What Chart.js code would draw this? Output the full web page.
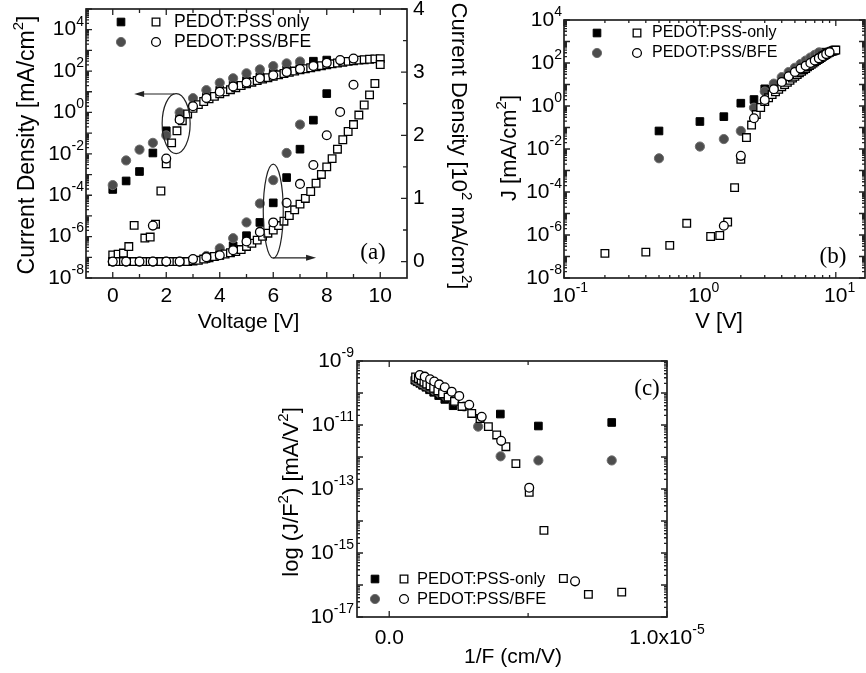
<!DOCTYPE html>
<html>
<head>
<meta charset="utf-8">
<script src="https://cdn.jsdelivr.net/npm/chart.js@4.4.1/dist/chart.umd.min.js"></script>
<style>
  html, body { margin: 0; padding: 0; background: #fff; }
  #wrap { position: relative; width: 866px; height: 673px; overflow: hidden; background: #fff; }
  canvas { position: absolute; }
</style>
</head>
<body>
<div id="wrap">
  <canvas id="chartA" width="480" height="345" style="left:0;top:0"></canvas>
  <canvas id="chartB" width="386" height="345" style="left:480px;top:0"></canvas>
  <canvas id="chartC" width="500" height="333" style="left:240px;top:340px"></canvas>
</div>
<script>
// ---- panel (a): J-V, log (left axis) and linear (right axis, 10^2 mA/cm2) ----
const aFilledVolt = [0, 0.5, 1, 1.5, 2, 2.5, 3, 3.5, 4, 4.5, 5, 5.5, 6, 6.5, 7, 7.5, 8];
const aFilledLog = [1.9e-4, 4.9e-4, 1.4e-3, 0.011, 0.13, 0.5, 1.9, 5.5, 12, 22, 35, 55, 80, 115, 160, 300, 340];
const aFilledLin = [0, 0, 0, 0, 0, 0, 0.02, 0.05, 0.10, 0.25, 0.41, 0.62, 0.93, 1.33, 1.78, 2.24, 2.66];

const aGreyVolt = [0, 0.5, 1, 1.5, 2, 2.5, 3, 3.5, 4, 4.5, 5, 5.5, 6, 6.5, 7];
const aGreyLog = [3.1e-4, 4.8e-3, 0.016, 0.034, 0.078, 1.0, 4.9, 12, 27, 45, 78, 120, 174, 235, 290];
const aGreyLin = [0, 0, 0, 0, 0, 0, 0.03, 0.09, 0.21, 0.37, 0.62, 0.92, 1.29, 1.72, 2.17];

// open squares on the log axis (same sweep is re-plotted in panel b)
const openSqVolt = [0, 0.2, 0.4, 0.6, 0.8, 1.2, 1.4, 1.6, 1.8, 2.0, 2.2, 2.4, 2.6, 2.8, 3.0, 3.2, 3.4, 3.6, 3.8, 4.0,
  4.2, 4.4, 4.6, 4.8, 5.0, 5.2, 5.4, 5.6, 5.8, 6.0, 6.2, 6.4, 6.6, 6.8, 7.0, 7.2, 7.4, 7.6, 7.8, 8.0,
  8.2, 8.4, 8.6, 8.8, 9.0, 9.2, 9.4, 9.6, 9.8, 10.0];
const openSqLog = [1.3e-7, 1.4e-7, 1.6e-7, 3.3e-7, 3.5e-6, 8.5e-7, 9.5e-7, 4e-6, 1.6e-4, 3.3e-3, 0.034, 0.13, 0.4, 0.85, 1.6, 2.4, 3.4, 4.6, 6.0, 7.9,
  10, 12.6, 15.8, 20, 24, 29, 35, 41, 48, 56, 66, 76, 87, 100, 115, 129, 145, 162, 182, 204,
  224, 245, 269, 295, 316, 339, 355, 372, 389, 400];

const aLinSqVolt = [0, 0.2, 0.4, 0.6, 0.8, 1.0, 1.2, 1.4, 1.6, 1.8, 2.0, 2.2, 2.4, 2.6, 2.8, 3.0, 3.2, 3.4, 3.6, 3.8,
  4.0, 4.2, 4.4, 4.6, 4.8, 5.0, 5.2, 5.4, 5.6, 5.8, 6.0, 6.2, 6.4, 6.6, 6.8, 7.0, 7.2, 7.4, 7.6, 7.8,
  8.0, 8.2, 8.4, 8.6, 8.8, 9.0, 9.2, 9.4, 9.6, 9.8, 10.0];
const aLinSq = [0, 0, 0, 0, 0, 0, 0, 0, 0, 0, 0, 0, 0, 0, 0, 0.01, 0.02, 0.04, 0.06, 0.08,
  0.10, 0.12, 0.14, 0.16, 0.19, 0.24, 0.29, 0.34, 0.40, 0.45, 0.50, 0.57, 0.64, 0.73, 0.82, 0.91, 1.00, 1.11, 1.24, 1.38,
  1.50, 1.63, 1.78, 1.93, 2.06, 2.17, 2.32, 2.48, 2.64, 2.82, 3.12];

const aCircLogVolt = [1.5, 2, 2.5, 3, 3.5, 4, 4.5, 5, 5.5, 6, 6.5, 7, 7.5, 8, 8.5, 9];
const aCircLog = [3.4e-6, 5.9e-3, 0.45, 2.0, 5.0, 10, 18, 28, 45, 63, 89, 126, 178, 250, 340, 400];
const aCircLinVolt = [0, 0.5, 1, 1.5, 2, 2.5, 3, 3.5, 4, 4.5, 5, 5.5, 6, 6.5, 7, 7.5, 8, 8.5, 9];
const aCircLin = [0, 0, 0, 0, 0, 0, 0.04, 0.07, 0.10, 0.18, 0.32, 0.47, 0.62, 0.93, 1.23, 1.53, 2.0, 2.37, 2.8];

// ---- panel (b): log-log J-V ----
const bFilledVolt = [0.5, 1, 1.5, 2, 2.5, 3, 3.5, 4, 4.5, 5, 5.5, 6, 6.5, 7, 7.5, 8];
const bFilled = [0.069, 0.19, 0.32, 1.35, 2.0, 6.3, 9, 15, 23, 34, 48, 68, 95, 130, 250, 320];
const bGreyVolt = [0.5, 1, 1.5, 2, 2.5, 3, 3.5, 4, 4.5, 5, 5.5, 6, 6.5, 7, 7.5];
const bGrey = [3.7e-3, 0.013, 0.029, 0.069, 0.83, 4.7, 11, 22, 38, 60, 90, 130, 180, 240, 310];
const bCircVolt = [1.5, 2, 2.5, 3, 3.5, 4, 4.5, 5, 5.5, 6, 6.5, 7, 7.5, 8, 8.5, 9];
const bCirc = [2.7e-6, 4.8e-3, 0.27, 1.9, 6, 13, 24, 38, 55, 75, 100, 130, 165, 205, 260, 320];

// ---- panel (c): J/F^2 vs 1/F ----
const cFilledX = [0.92e-6, 1.0e-6, 1.1e-6, 1.2e-6, 1.32e-6, 1.45e-6, 1.6e-6, 1.78e-6, 2.0e-6, 2.3e-6, 4.0e-6, 5.37e-6, 8.01e-6];
const cFilledY = [2.5e-10, 2.24e-10, 2.0e-10, 1.74e-10, 1.51e-10, 1.26e-10, 1.05e-10, 8.3e-11, 6.3e-11, 4.0e-11, 2.2e-11, 9.3e-12, 1.2e-11];
const cGreyX = [0.95e-6, 1.05e-6, 1.17e-6, 1.3e-6, 1.45e-6, 1.62e-6, 1.82e-6, 2.05e-6, 2.35e-6, 2.7e-6, 3.2e-6, 4.01e-6, 5.37e-6, 8.01e-6];
const cGreyY = [2.63e-10, 2.34e-10, 2.04e-10, 1.74e-10, 1.48e-10, 1.23e-10, 1.0e-10, 7.8e-11, 5.6e-11, 3.8e-11, 8.9e-12, 1.05e-12, 7.8e-13, 7.8e-13];
const cSqX = [0.95e-6, 1.05e-6, 1.15e-6, 1.25e-6, 1.35e-6, 1.47e-6, 1.6e-6, 1.75e-6, 1.92e-6, 2.12e-6, 2.35e-6, 2.62e-6, 2.97e-6, 3.27e-6,
  3.57e-6, 3.87e-6, 4.2e-6, 4.56e-6, 5.04e-6, 5.57e-6, 6.27e-6, 7.17e-6, 8.37e-6];
const cSqY = [3.16e-10, 2.82e-10, 2.51e-10, 2.19e-10, 1.91e-10, 1.66e-10, 1.41e-10, 1.17e-10, 9.5e-11, 7.4e-11, 5.5e-11, 3.8e-11, 2.3e-11, 1.6e-11,
  8.9e-12, 4.9e-12, 2.1e-12, 6.2e-13, 7.9e-14, 5.1e-15, 1.6e-16, 5.1e-17, 6.0e-17];
const cCircX = [1.1e-6, 1.28e-6, 1.47e-6, 1.62e-6, 1.8e-6, 2.0e-6, 2.25e-6, 2.52e-6, 2.88e-6, 3.33e-6, 4.03e-6, 5.04e-6, 6.69e-6];
const cCircY = [3.63e-10, 3.24e-10, 2.69e-10, 2.29e-10, 1.86e-10, 1.51e-10, 1.10e-10, 8.1e-11, 4.3e-11, 1.8e-11, 3.2e-12, 1.1e-13, 1.3e-16];

// tick labels
const aXTicks = [0, 2, 4, 6, 8, 10];
const aYLeftExps = [-8, -6, -4, -2, 0, 2, 4];
const aYRightTicks = [0, 1, 2, 3, 4];
const bXExps = [-1, 0, 1];
const bYExps = [-8, -6, -4, -2, 0, 2, 4];
const cYExps = [-17, -15, -13, -11, -9];

const aLegend = ['PEDOT:PSS only', 'PEDOT:PSS/BFE'];
const bLegend = ['PEDOT:PSS-only', 'PEDOT:PSS/BFE'];

const INK = '#222';
const TEXT = '#000';
const SANS = '"Liberation Sans", Arial, Helvetica, sans-serif';
const SERIF = '"Liberation Serif", "Times New Roman", serif';

const MARK = {
  filledSq: { shape: 'rect', r: 5.4, fill: '#000', line: '#000', w: 1 },
  greyCirc: { shape: 'circle', r: 4.6, fill: '#4d4d4d', line: '#6e6e6e', w: 1 },
  openSq: { shape: 'rect', r: 5.4, fill: '#fff', line: '#000', w: 1.3 },
  openCirc: { shape: 'circle', r: 4.4, fill: '#fff', line: '#000', w: 1.3 },
};

function series(xs, ys, kind, yAxis) {
  const m = MARK[kind];
  const pts = [];
  xs.forEach((x, i) => pts.push({ x: x, y: ys[i] }));
  return {
    data: pts,
    yAxisID: yAxis || 'y',
    showLine: false,
    pointStyle: m.shape,
    pointRadius: m.r,
    pointHoverRadius: m.r,
    pointBackgroundColor: m.fill,
    pointBorderColor: m.line,
    pointBorderWidth: m.w,
  };
}

function hidden(extra) {
  return Object.assign({
    ticks: { display: false },
    grid: { display: false },
    border: { display: false },
  }, extra);
}

function logTicks(lo, hi) {
  const major = [], minor = [];
  for (let e = Math.floor(Math.log10(lo)) - 1; e <= Math.ceil(Math.log10(hi)); e++) {
    const d = Math.pow(10, e);
    major.push(d);
    for (let m = 2; m < 10; m++) minor.push(m * d);
  }
  return { major, minor };
}

function tickRow(ctx, a, scale, side, values, len) {
  ctx.beginPath();
  values.forEach(v => {
    const p = scale.getPixelForValue(v);
    if (side === 'bottom' || side === 'top') {
      if (p < a.left - 0.5 || p > a.right + 0.5) return;
      const y0 = side === 'bottom' ? a.bottom : a.top;
      ctx.moveTo(p, y0);
      ctx.lineTo(p, side === 'bottom' ? y0 - len : y0 + len);
    } else {
      if (p < a.top - 0.5 || p > a.bottom + 0.5) return;
      const x0 = side === 'left' ? a.left : a.right;
      ctx.moveTo(x0, p);
      ctx.lineTo(side === 'left' ? x0 + len : x0 - len, p);
    }
  });
  ctx.stroke();
}

function frame(ctx, a) {
  ctx.save();
  ctx.lineWidth = 1.7;
  ctx.strokeStyle = INK;
  ctx.strokeRect(a.left, a.top, a.right - a.left, a.bottom - a.top);
  ctx.restore();
}

function supText(ctx, base, exp, x, y, align) {
  ctx.font = '21px ' + SANS;
  const bw = ctx.measureText(base).width;
  ctx.font = '14px ' + SANS;
  const ew = ctx.measureText(exp).width;
  let x0 = x - (bw + ew) / 2;
  if (align === 'right') x0 = x - bw - ew;
  if (align === 'base') x0 = x - bw / 2;
  ctx.fillStyle = TEXT;
  ctx.textAlign = 'left';
  ctx.textBaseline = 'middle';
  ctx.font = '21px ' + SANS;
  ctx.fillText(base, x0, y);
  ctx.font = '14px ' + SANS;
  ctx.fillText(exp, x0 + bw, y - 8);
}

function plain(ctx, text, x, y, align, font) {
  ctx.fillStyle = TEXT;
  ctx.font = font || ('21px ' + SANS);
  ctx.textAlign = align || 'center';
  ctx.textBaseline = 'middle';
  ctx.fillText(text, x, y);
}

// axis title with "^x" marking a one-character superscript
function title(ctx, text, x, y, angle, size) {
  const parts = [];
  let buf = '';
  for (let i = 0; i < text.length; i++) {
    if (text[i] === '^') {
      if (buf) parts.push({ t: buf, sup: false });
      parts.push({ t: text[i + 1], sup: true });
      buf = '';
      i++;
    } else {
      buf += text[i];
    }
  }
  if (buf) parts.push({ t: buf, sup: false });
  const big = size + 'px ' + SANS, small = Math.round(size * 0.66) + 'px ' + SANS;
  let total = 0;
  parts.forEach(p => {
    ctx.font = p.sup ? small : big;
    p.w = ctx.measureText(p.t).width;
    total += p.w;
  });
  ctx.save();
  ctx.translate(x, y);
  ctx.rotate(angle);
  ctx.fillStyle = TEXT;
  ctx.textAlign = 'left';
  ctx.textBaseline = 'middle';
  let cx = -total / 2;
  parts.forEach(p => {
    ctx.font = p.sup ? small : big;
    ctx.fillText(p.t, cx, p.sup ? -size * 0.38 : 0);
    cx += p.w;
  });
  ctx.restore();
}

function marker(ctx, kind, x, y) {
  const m = MARK[kind];
  ctx.save();
  ctx.fillStyle = m.fill;
  ctx.strokeStyle = m.line;
  ctx.lineWidth = m.w;
  ctx.beginPath();
  if (m.shape === 'rect') {
    const h = m.r * Math.SQRT1_2;
    ctx.rect(x - h, y - h, 2 * h, 2 * h);
  } else {
    ctx.arc(x, y, m.r, 0, Math.PI * 2);
  }
  ctx.fill();
  ctx.stroke();
  ctx.restore();
}

function legend(ctx, x1, x2, xt, y1, y2, labels, font) {
  marker(ctx, 'filledSq', x1, y1);
  marker(ctx, 'openSq', x2, y1);
  marker(ctx, 'greyCirc', x1, y2);
  marker(ctx, 'openCirc', x2, y2);
  plain(ctx, labels[0], xt, y1, 'left', font);
  plain(ctx, labels[1], xt, y2, 'left', font);
}

function arrow(ctx, x1, y, x2) {
  const d = Math.sign(x2 - x1);
  ctx.beginPath();
  ctx.moveTo(x1, y);
  ctx.lineTo(x2 - d * 4, y);
  ctx.stroke();
  ctx.beginPath();
  ctx.moveTo(x2, y);
  ctx.lineTo(x2 - d * 10, y - 3);
  ctx.lineTo(x2 - d * 10, y + 3);
  ctx.closePath();
  ctx.fill();
}

const baseOptions = {
  responsive: false,
  animation: false,
  events: [],
  plugins: { legend: { display: false }, tooltip: { enabled: false } },
};

// ---------- (a) ----------
const aDecor = {
  id: 'aDecor',
  afterDatasetsDraw(chart) {
    const ctx = chart.ctx, a = chart.chartArea;
    const x = chart.scales.x, yL = chart.scales.yL, yR = chart.scales.yR;
    ctx.save();
    ctx.strokeStyle = INK;
    ctx.fillStyle = INK;
    ctx.lineWidth = 1.2;

    ctx.beginPath();
    ctx.ellipse(x.getPixelForValue(2.37), yL.getPixelForValue(0.29), 14, 30, 0, 0, Math.PI * 2);
    ctx.stroke();
    arrow(ctx, x.getPixelForValue(2.3), yL.getPixelForValue(7.8), x.getPixelForValue(0.8));
    ctx.beginPath();
    ctx.ellipse(x.getPixelForValue(6), yR.getPixelForValue(0.8), 10, 47, 0, 0, Math.PI * 2);
    ctx.stroke();
    arrow(ctx, x.getPixelForValue(6), yR.getPixelForValue(0.06), x.getPixelForValue(7.6));

    const lg = logTicks(1e-8, 1e5);
    ctx.lineWidth = 1.3;
    tickRow(ctx, a, x, 'bottom', [0, 2, 4, 6, 8, 10], 6);
    tickRow(ctx, a, x, 'bottom', [1, 3, 5, 7, 9], 4);
    tickRow(ctx, a, x, 'top', [0, 2, 4, 6, 8, 10], 6);
    tickRow(ctx, a, x, 'top', [1, 3, 5, 7, 9], 4);
    tickRow(ctx, a, yL, 'left', lg.major, 6);
    tickRow(ctx, a, yL, 'left', lg.minor, 3);
    tickRow(ctx, a, yR, 'right', [0, 1, 2, 3, 4], 6);
    tickRow(ctx, a, yR, 'right', [0.5, 1.5, 2.5, 3.5], 4);
    frame(ctx, a);

    aXTicks.forEach(v => plain(ctx, String(v), x.getPixelForValue(v), a.bottom + 18));
    aYLeftExps.forEach(e => supText(ctx, '10', String(e), a.left - 2, yL.getPixelForValue(Math.pow(10, e)), 'right'));
    aYRightTicks.forEach(v => plain(ctx, String(v), a.right + 6, yR.getPixelForValue(v), 'left'));

    title(ctx, 'Current Density [mA/cm^2]', 28, 145, -Math.PI / 2, 23);
    title(ctx, 'Current Density [10^2 mA/cm^2]', 458, 146, Math.PI / 2, 22);
    title(ctx, 'Voltage [V]', (a.left + a.right) / 2 + 2, 322, 0, 21);

    legend(ctx, a.left + 35, a.left + 70, a.left + 88, a.top + 13, a.top + 33, aLegend, '17.5px ' + SANS);
    plain(ctx, '(a)', a.right - 34, a.bottom - 25, 'center', '23px ' + SERIF);
    ctx.restore();
  }
};

new Chart(document.getElementById('chartA'), {
  type: 'scatter',
  data: {
    datasets: [
      series(aCircLinVolt, aCircLin, 'openCirc', 'yR'),
      series(aCircLogVolt, aCircLog, 'openCirc', 'yL'),
      series(aLinSqVolt, aLinSq, 'openSq', 'yR'),
      series(openSqVolt, openSqLog, 'openSq', 'yL'),
      series(aGreyVolt, aGreyLin, 'greyCirc', 'yR'),
      series(aGreyVolt, aGreyLog, 'greyCirc', 'yL'),
      series(aFilledVolt, aFilledLin, 'filledSq', 'yR'),
      series(aFilledVolt, aFilledLog, 'filledSq', 'yL'),
    ]
  },
  options: Object.assign({}, baseOptions, {
    layout: { padding: { top: 9, left: 0, right: 0, bottom: 0 }, autoPadding: false },
    scales: {
      x: hidden({ type: 'linear', position: 'bottom', min: -1, max: 11, afterFit: s => { s.height = 67; } }),
      yL: hidden({ type: 'logarithmic', position: 'left', min: 1e-8, max: 1e5, afterFit: s => { s.width = 86; } }),
      yR: hidden({ type: 'linear', position: 'right', min: -0.26, max: 4, afterFit: s => { s.width = 73; } }),
    }
  }),
  plugins: [aDecor]
});

// ---------- (b) ----------
const bDecor = {
  id: 'bDecor',
  afterDatasetsDraw(chart) {
    const ctx = chart.ctx, a = chart.chartArea;
    const x = chart.scales.x, y = chart.scales.y;
    ctx.save();
    ctx.strokeStyle = INK;
    ctx.fillStyle = INK;
    ctx.lineWidth = 1.3;
    const lx = logTicks(0.1, 16.4), ly = logTicks(1e-8, 1e4);
    tickRow(ctx, a, x, 'bottom', lx.major, 6);
    tickRow(ctx, a, x, 'bottom', lx.minor, 3);
    tickRow(ctx, a, x, 'top', lx.major, 6);
    tickRow(ctx, a, x, 'top', lx.minor, 3);
    tickRow(ctx, a, y, 'left', ly.major, 6);
    tickRow(ctx, a, y, 'left', ly.minor, 3);
    tickRow(ctx, a, y, 'right', ly.major, 6);
    tickRow(ctx, a, y, 'right', ly.minor, 3);
    frame(ctx, a);

    bXExps.forEach(e => supText(ctx, '10', String(e), x.getPixelForValue(Math.pow(10, e)), a.bottom + 18, 'base'));
    bYExps.forEach(e => supText(ctx, '10', String(e), a.left - 2, y.getPixelForValue(Math.pow(10, e)), 'right'));

    title(ctx, 'J [mA/cm^2]', 30, 148, -Math.PI / 2, 22);
    title(ctx, 'V [V]', 239, 322, 0, 22);

    legend(ctx, a.left + 33, a.left + 73, a.left + 88, a.top + 13, a.top + 33, bLegend, '16px ' + SANS);
    plain(ctx, '(b)', a.right - 32, a.bottom - 21, 'center', '23px ' + SERIF);
    ctx.restore();
  }
};

const bSqVolt = openSqVolt.filter(v => v > 0);
const bSq = openSqLog.filter((j, i) => openSqVolt[i] > 0);

new Chart(document.getElementById('chartB'), {
  type: 'scatter',
  data: {
    datasets: [
      series(bCircVolt, bCirc, 'openCirc'),
      series(bSqVolt, bSq, 'openSq'),
      series(bGreyVolt, bGrey, 'greyCirc'),
      series(bFilledVolt, bFilled, 'filledSq'),
    ]
  },
  options: Object.assign({}, baseOptions, {
    layout: { padding: { top: 20, left: 0, right: 1, bottom: 0 }, autoPadding: false },
    scales: {
      x: hidden({ type: 'logarithmic', position: 'bottom', min: 0.1, max: 16.4, afterFit: s => { s.height = 67; } }),
      y: hidden({ type: 'logarithmic', position: 'left', min: 1e-8, max: 1e4, afterFit: s => { s.width = 84; } }),
    }
  }),
  plugins: [bDecor]
});

// ---------- (c) ----------
const cDecor = {
  id: 'cDecor',
  afterDatasetsDraw(chart) {
    const ctx = chart.ctx, a = chart.chartArea;
    const x = chart.scales.x, y = chart.scales.y;
    ctx.save();
    ctx.strokeStyle = INK;
    ctx.fillStyle = INK;
    ctx.lineWidth = 1.3;
    const ly = logTicks(1e-17, 1e-9);
    tickRow(ctx, a, x, 'bottom', [0, 1e-5], 6);
    tickRow(ctx, a, x, 'bottom', [0.5e-5], 4);
    tickRow(ctx, a, x, 'top', [0, 1e-5], 6);
    tickRow(ctx, a, x, 'top', [0.5e-5], 4);
    tickRow(ctx, a, y, 'left', ly.major, 6);
    tickRow(ctx, a, y, 'left', ly.minor, 3);
    tickRow(ctx, a, y, 'right', ly.major, 6);
    tickRow(ctx, a, y, 'right', ly.minor, 3);
    frame(ctx, a);

    plain(ctx, '0.0', x.getPixelForValue(0), a.bottom + 21);
    supText(ctx, '1.0x10', '-5', x.getPixelForValue(1e-5), a.bottom + 21, 'center');
    cYExps.forEach(e => supText(ctx, '10', String(e), a.left - 3, y.getPixelForValue(Math.pow(10, e)), 'right'));

    title(ctx, 'log (J/F^2) [mA/V^2]', 52, 152, -Math.PI / 2, 22);
    title(ctx, '1/F (cm/V)', (a.left + a.right) / 2 + 1, 317, 0, 21);

    legend(ctx, a.left + 18, a.left + 47, a.left + 60, a.top + 218, a.top + 238, bLegend, '16.5px ' + SANS);
    plain(ctx, '(c)', a.right - 20, a.top + 28, 'center', '23px ' + SERIF);
    ctx.restore();
  }
};

new Chart(document.getElementById('chartC'), {
  type: 'scatter',
  data: {
    datasets: [
      series(cCircX, cCircY, 'openCirc'),
      series(cSqX, cSqY, 'openSq'),
      series(cGreyX, cGreyY, 'greyCirc'),
      series(cFilledX, cFilledY, 'filledSq'),
    ]
  },
  options: Object.assign({}, baseOptions, {
    layout: { padding: { top: 21, left: 0, right: 73, bottom: 0 }, autoPadding: false },
    scales: {
      x: hidden({ type: 'linear', position: 'bottom', min: -1.16e-6, max: 1e-5, afterFit: s => { s.height = 56; } }),
      y: hidden({ type: 'logarithmic', position: 'left', min: 1e-17, max: 1e-9, afterFit: s => { s.width = 117; } }),
    }
  }),
  plugins: [cDecor]
});
</script>
</body>
</html>
